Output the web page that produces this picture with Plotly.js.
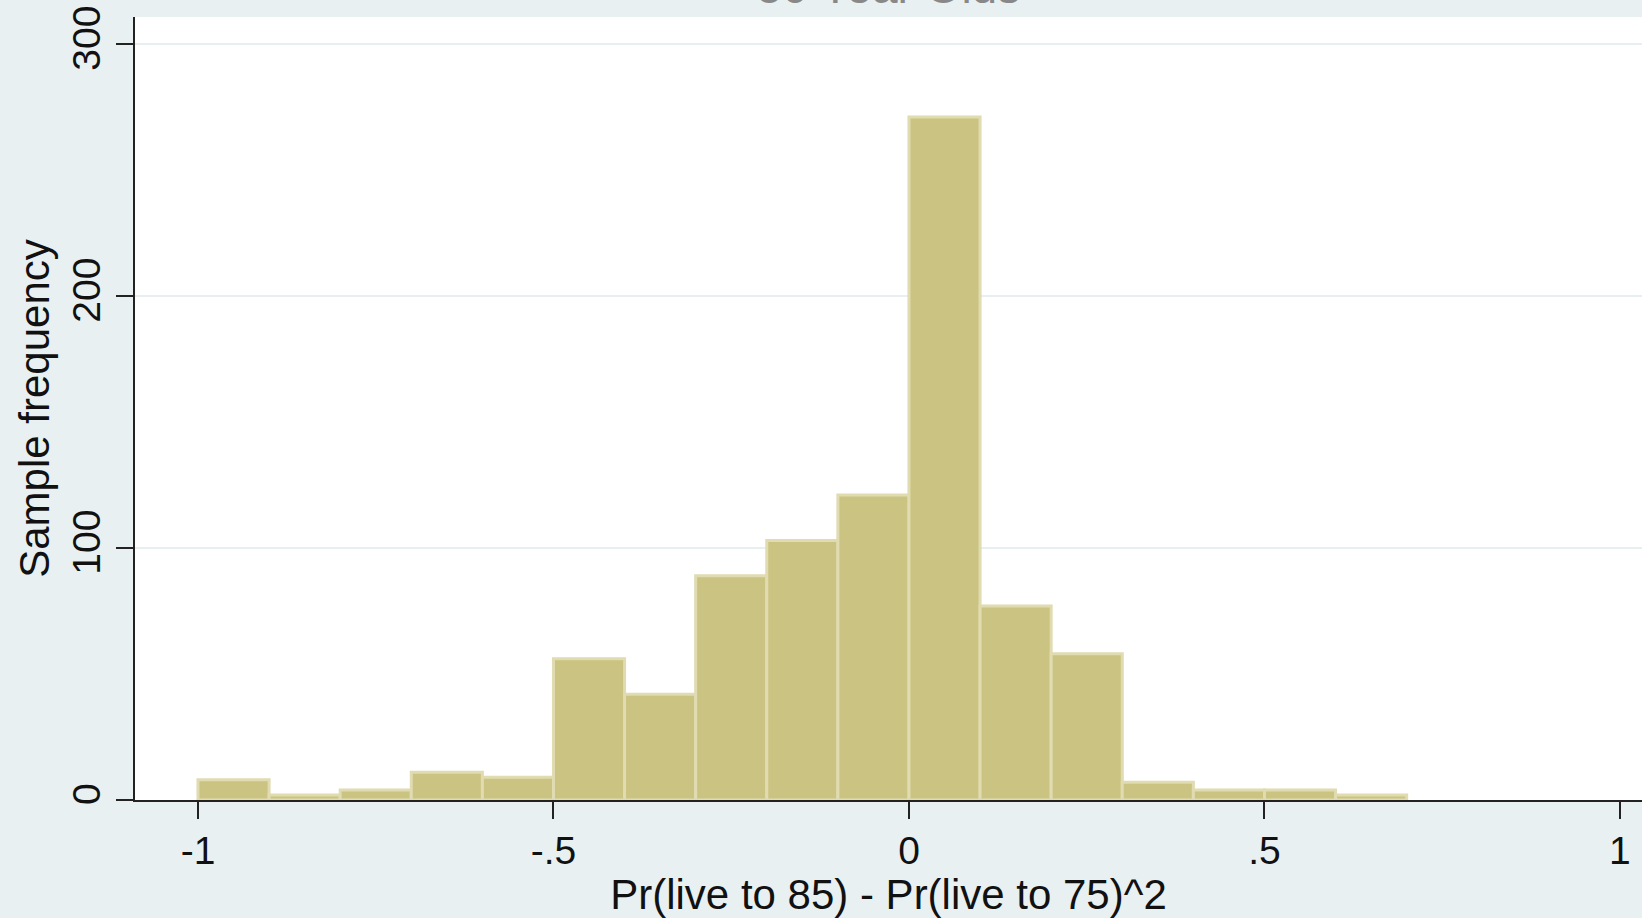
<!DOCTYPE html>
<html>
<head>
<meta charset="utf-8">
<script src="https://cdn.plot.ly/plotly-3.0.1.min.js"></script>
<style>
  html, body { margin: 0; padding: 0; background: #e9f0f2; }
  #chart { width: 1642px; height: 918px; }
</style>
</head>
<body>
<div id="chart"></div>
<script>
// Histogram bins (width 0.1) and sample frequencies
const binCenters = [-0.95, -0.85, -0.75, -0.65, -0.55, -0.45, -0.35, -0.25, -0.15, -0.05,
                    0.05, 0.15, 0.25, 0.35, 0.45, 0.55, 0.65];
const counts = [8, 2, 4, 11, 9, 56, 42, 89, 103, 121, 271, 77, 58, 7, 4, 4, 2];
const binWidth = 0.1;

const xTickVals = [-1, -0.5, 0, 0.5, 1];
const xTickText = ['-1', '-.5', '0', '.5', '1'];
const yTickVals = [0, 100, 200, 300];
const yTickText = ['0', '100', '200', '300'];

const chartTitle = '50 Year Olds';
const xTitle = 'Pr(live to 85) - Pr(live to 75)^2';
const yTitle = 'Sample frequency';

const fontFamily = '"Liberation Sans", Arial, sans-serif';

const trace = {
  type: 'bar',
  x: binCenters,
  y: counts,
  width: binCenters.map(() => binWidth),
  marker: { color: '#cbc381', line: { color: '#e0dbb0', width: 3 } },
  hoverinfo: 'x+y'
};

const layout = {
  width: 1642,
  height: 918,
  paper_bgcolor: '#e9f0f2',
  plot_bgcolor: '#ffffff',
  margin: { l: 135, r: 0, t: 17, b: 118, pad: 0 },
  showlegend: false,
  bargap: 0,
  font: { family: fontFamily, color: '#111111' },
  title: {
    text: chartTitle,
    font: { family: fontFamily, size: 46, color: '#888888' },
    xref: 'paper', x: 0.5, xanchor: 'center',
    yref: 'container', y: 1 - 3 / 918, yanchor: 'bottom'
  },
  xaxis: {
    range: [-1.0886, 1.031],
    tickvals: xTickVals,
    ticktext: xTickText,
    tickfont: { size: 39, color: '#111111' },
    ticks: 'outside', ticklen: 17, tickwidth: 2, tickcolor: '#222222',
    ticklabelstandoff: -2,
    showline: true, linecolor: '#222222', linewidth: 2,
    showgrid: false, zeroline: false,
    title: { text: xTitle, font: { size: 42, color: '#111111' }, standoff: 1 }
  },
  yaxis: {
    range: [0, 310.7],
    tickvals: yTickVals,
    ticktext: yTickText,
    tickangle: -90,
    tickfont: { size: 39, color: '#111111' },
    ticks: 'outside', ticklen: 17, tickwidth: 2, tickcolor: '#222222',
    showline: true, linecolor: '#222222', linewidth: 2,
    showgrid: true, gridcolor: '#e8eff1', gridwidth: 2,
    zeroline: false,
    title: { text: yTitle, font: { size: 42, color: '#111111' }, standoff: 3 }
  }
};

Plotly.newPlot('chart', [trace], layout, { displayModeBar: false, staticPlot: true });
</script>
</body>
</html>
